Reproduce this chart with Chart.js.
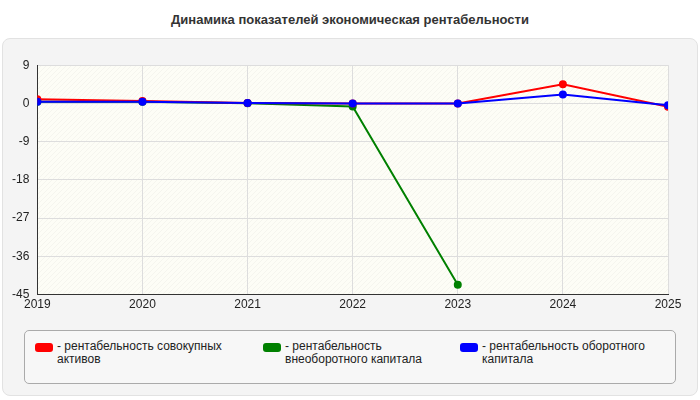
<!DOCTYPE html>
<html><head><meta charset="utf-8">
<script src="https://cdn.jsdelivr.net/npm/chart.js@4"></script>
<style>
body{margin:0;width:700px;height:400px;background:#fff;font-family:"Liberation Sans",Arial,sans-serif;position:relative;overflow:hidden}
#title{position:absolute;top:12px;left:0;width:700px;text-align:center;font-weight:bold;font-size:13px;color:#333}
#panel{position:absolute;left:2px;top:38px;width:694px;height:356px;background:#f4f4f4;border:1px solid #e2e2e2;border-radius:8px}
#c{position:absolute;left:2px;top:50px}
#legend{position:absolute;left:24px;top:330px;width:650px;height:52px;border:1px solid #aaa;border-radius:5px;background:#f7f7f7;font-size:12px;color:#222}
.it{position:absolute;top:9px;display:flex}
.sw{width:18px;height:9px;border-radius:3px;margin:3px 4px 0 0;flex:none}
.tx{line-height:13px}
</style></head><body>
<div id="title">Динамика показателей экономическая рентабельности</div>
<div id="panel"></div>
<canvas id="c" width="694" height="265"></canvas>
<div id="legend">
<div class="it" style="left:10px;width:220px"><div class="sw" style="background:red"></div><div class="tx">- рентабельность совокупных активов</div></div>
<div class="it" style="left:238px;width:190px"><div class="sw" style="background:green"></div><div class="tx">- рентабельность внеоборотного капитала</div></div>
<div class="it" style="left:435px;width:210px"><div class="sw" style="background:blue"></div><div class="tx">- рентабельность оборотного капитала</div></div>
</div>
<script>
var years = [2019, 2020, 2021, 2022, 2023, 2024, 2025];
var totalAssets = [1.0, 0.6, 0.1, 0, 0, 4.5, -0.8];
var fixedCapital = [0.4, 0.4, 0.05, -0.7, -42.7, null, null];
var workingCapital = [0.4, 0.4, 0.1, 0, 0, 2.1, -0.4];
var yTicks = [9, 0, -9, -18, -27, -36, -45];

function pts(arr) {
    return years.map(function (y, i) { return {x: y, y: arr[i]}; });
}

var plotBg = {
    id: 'plotBg',
    beforeDraw: function (chart) {
        var a = chart.chartArea, ctx = chart.ctx;
        ctx.save();
        ctx.fillStyle = '#fdfdf6';
        ctx.fillRect(a.left, a.top, a.right - a.left, a.bottom - a.top);
        ctx.beginPath();
        ctx.rect(a.left, a.top, a.right - a.left, a.bottom - a.top);
        ctx.clip();
        ctx.strokeStyle = 'rgba(0,0,0,0.035)';
        for (var x = a.left - 300; x < a.right; x += 5) {
            ctx.beginPath();
            ctx.moveTo(x, a.bottom);
            ctx.lineTo(x + 300, a.bottom - 300);
            ctx.stroke();
        }
        ctx.restore();
    }
};

function ds(label, arr, color) {
    return {label: label, data: pts(arr), borderColor: color, backgroundColor: color,
        borderWidth: 2, pointRadius: 3, pointHoverRadius: 3, spanGaps: false};
}

new Chart(document.getElementById('c'), {
    type: 'line',
    data: {datasets: [
        ds('рентабельность оборотного капитала', workingCapital, 'blue'),
        ds('рентабельность совокупных активов', totalAssets, 'red'),
        ds('рентабельность внеоборотного капитала', fixedCapital, 'green')
    ]},
    options: {
        responsive: false, animation: false, devicePixelRatio: 1,
        layout: {padding: {left: 2, right: 28, top: 8, bottom: 0}},
        font: {family: '"Liberation Sans", Arial, sans-serif'},
        plugins: {legend: {display: false}, tooltip: {enabled: false}},
        scales: {
            x: {type: 'linear', min: 2019, max: 2025,
                ticks: {stepSize: 1, color: '#222', font: {size: 12}, padding: 3, callback: function (v) { return String(v); }},
                grid: {color: '#ddd', drawTicks: false},
                border: {color: '#333'}},
            y: {min: -45, max: 9,
                afterBuildTicks: function (s) { s.ticks = yTicks.map(function (v) { return {value: v}; }); },
                ticks: {color: '#222', font: {size: 12}, padding: 8},
                grid: {color: '#ddd', drawTicks: false},
                border: {color: '#333'}}
        }
    },
    plugins: [plotBg]
});
</script>
</body></html>
